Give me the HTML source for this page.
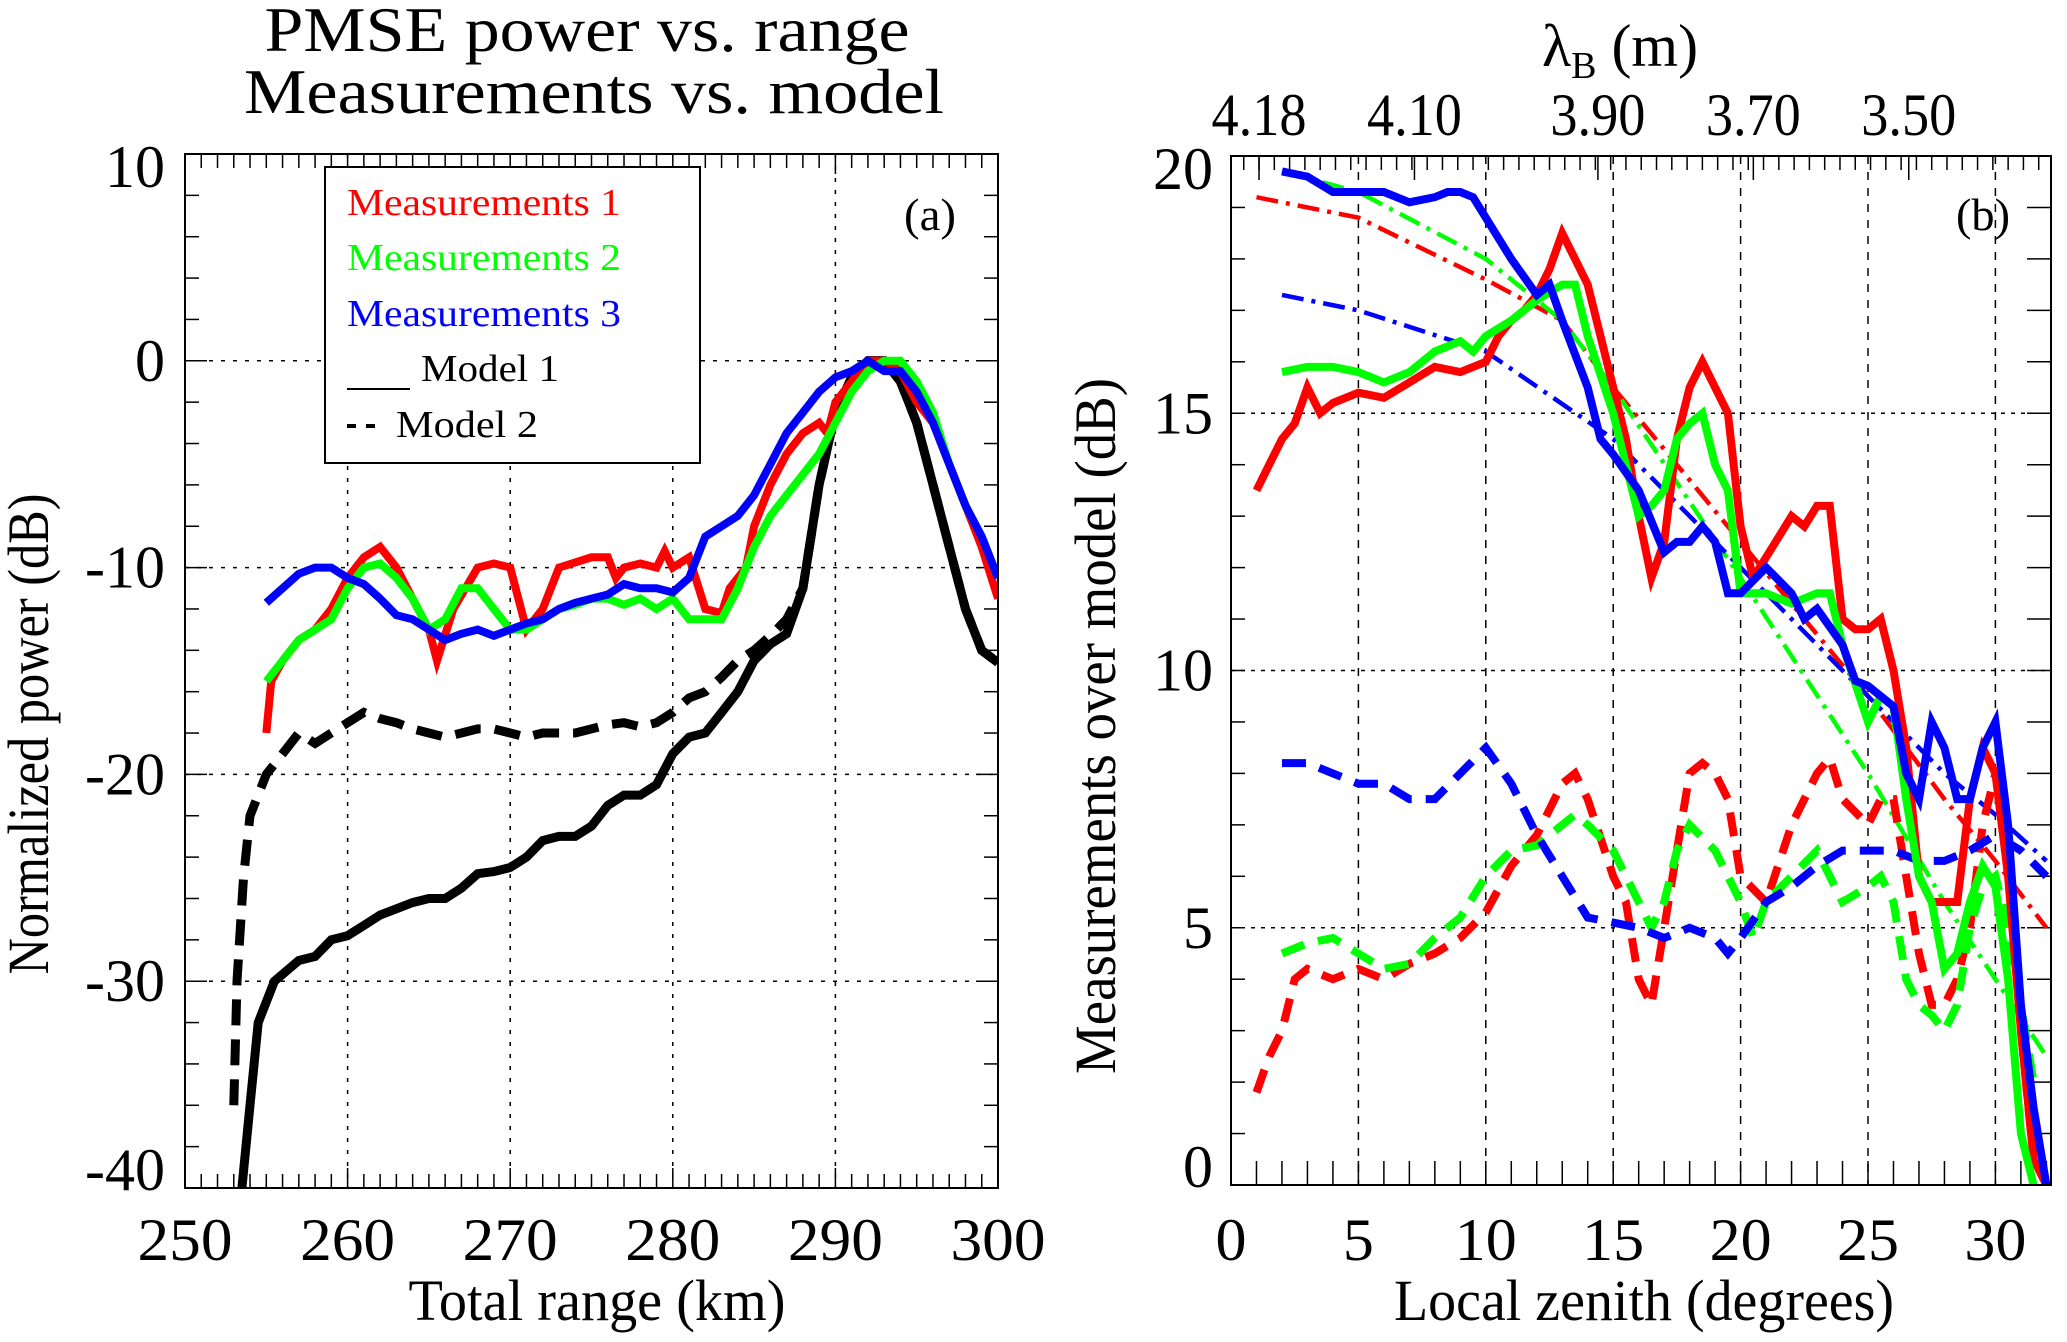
<!DOCTYPE html>
<html><head><meta charset="utf-8">
<style>
html,body{margin:0;padding:0;background:#fff;}
svg{display:block;font-family:"Liberation Serif","Times New Roman",serif;}
</style></head>
<body>
<svg id="fig" width="2067" height="1342" viewBox="0 0 2067 1342" xmlns="http://www.w3.org/2000/svg">
<rect width="2067" height="1342" fill="#fff"/>
<g id="pa"></g>
<g id="pb"></g>
</svg>
<script>
// ---------- Panel (a) data ----------
const aXTicks = [250,260,270,280,290,300];
const aYTicks = [10,0,-10,-20,-30,-40];
const m1X = [255,255.3,256,257,258,259,260,261,262,263,264,265,265.5,266.5,268,269,270,271,272,273,275,276,276.5,277,278,279,279.5,280,281,282,283,283.5,284.5,285,286,287,288,289,289.5,290,291,292,293,294,295,296,297,298,299,300];
const m1Y = [-18,-15.5,-14.5,-13.5,-13,-12,-10.5,-9.5,-9,-10,-11.5,-13,-14.5,-12,-10,-9.8,-10,-13,-12,-10,-9.5,-9.5,-10.5,-10,-9.8,-10,-9.2,-10,-9.5,-12,-12.2,-11,-10,-8,-6,-4.5,-3.5,-3,-3.5,-2,-1,0,0,-0.5,-2,-3,-5,-7,-9,-11.5];
const m2X = [255,256,257,258,259,260,261,262,263,264,265,266,267,268,269,270,271,272,273,274,275,276,277,278,279,280,281,282,283,284,285,286,287,288,289,290,291,292,293,294,295,296,297,298,299,300];
const m2Y = [-15.5,-14.5,-13.5,-13,-12.5,-11,-10,-9.8,-10.5,-11.5,-13,-12.5,-11,-11,-12,-13,-13,-12.5,-12,-11.8,-11.5,-11.5,-11.8,-11.5,-12,-11.5,-12.5,-12.5,-12.5,-11,-9,-7.5,-6.5,-5.5,-4.5,-3,-1.5,-0.5,0,0,-1,-2.5,-5,-7,-8.5,-10.5];
const m3X = m2X;
const m3Y = [-11.7,-11,-10.3,-10,-10,-10.5,-10.8,-11.5,-12.3,-12.5,-13,-13.5,-13.2,-13,-13.3,-13,-12.7,-12.5,-12,-11.7,-11.5,-11.3,-10.8,-11,-11,-11.2,-10.5,-8.5,-8,-7.5,-6.5,-5,-3.5,-2.5,-1.5,-0.8,-0.5,0,-0.5,-0.5,-1.5,-3,-5,-7,-8.5,-10.5];
const mod1X = [253.5,254,254.5,255.5,257,258,259,260,261,262,263,264,265,266,267,268,269,270,271,272,273,274,275,276,277,278,279,280,281,282,283,284,285,286,287,288,289,290,291,292,293,294,295,296,297,298,299,300];
const mod1Y = [-40,-36,-32,-30,-29,-28.8,-28,-27.8,-27.3,-26.8,-26.5,-26.2,-26,-26,-25.5,-24.8,-24.7,-24.5,-24,-23.2,-23,-23,-22.5,-21.5,-21,-21,-20.5,-19,-18.2,-18,-17,-16,-14.5,-13.7,-13.2,-11,-6,-2.5,-0.8,0,0,-1,-3,-6,-9,-12,-14,-14.6];
const mod2X = [253,253.2,253.6,254,255,256,257,258,259,260,261,262,263,264,265,266,267,268,269,270,271,272,273,274,275,276,277,278,279,280,281,282,283,284,285,286,287,288];
const mod2Y = [-36,-30,-25,-22,-20,-19,-18,-18.5,-18,-17.5,-17,-17.3,-17.5,-17.8,-18,-18.2,-18,-17.8,-17.8,-18,-18.2,-18,-18,-18,-17.8,-17.6,-17.5,-17.7,-17.5,-17,-16.3,-16,-15.3,-14.5,-14,-13.3,-12.5,-11];

// ---------- Panel (b) data ----------
const bXTicks = [0,5,10,15,20,25,30];
const bYTicks = [20,15,10,5,0];
const lamLabels = ["4.18","4.10","3.90","3.70","3.50"];
const lamZenith = [1.1,7.2,14.4,20.5,26.6];
const rSX = [1,1.5,2,2.5,3,3.5,4,5,6,7,8,9,10,10.5,11,11.5,12,12.5,13,13.5,14,14.5,15,15.5,16,16.5,17,17.5,18,18.5,19,19.5,20,20.5,21,22,22.5,23,23.5,24,24.5,25,25.5,26,26.5,27,27.5,28,28.5,29,29.5,30,30.5,31,31.5,32];
const rSY = [13.5,14,14.5,14.8,15.5,15,15.2,15.4,15.3,15.6,15.9,15.8,16,16.5,16.8,17,17.3,17.8,18.5,18,17.5,16.5,15.5,14.5,13,11.8,12.5,14.5,15.5,16,15.5,15,12.8,11.8,12.2,13,12.8,13.2,13.2,11,10.8,10.8,11,10,8.5,6,5.5,5.5,5.5,7.5,8.5,8,6,3,0.5,0];
const gSX = [2,3,4,5,6,7,8,9,9.5,10,11,12,13,13.5,14,15,15.5,16,16.5,17,17.5,18,18.5,19,19.5,20,21,22,23,23.5,24,25,25.5,26,26.5,27,27.5,28,28.5,29,29.5,30,30.5,31,31.5];
const gSY = [15.8,15.9,15.9,15.8,15.6,15.8,16.2,16.4,16.2,16.5,16.8,17.2,17.5,17.5,16.5,15,14,13,13.2,13.5,14.5,14.8,15,14,13.5,11.5,11.5,11.3,11.5,11.5,10.5,9,9.5,9.3,7.5,6,5.5,4.2,4.5,5.5,6.2,5.8,4,1,0];
const bSX = [2,3,4,5,6,7,8,8.5,9,9.5,10,11,12,12.5,13,14,14.5,15,16,17,17.5,18,18.5,19,19.5,20,21,22,22.5,23,24,24.5,25,26,26.5,27,27.5,28,28.5,29,29.5,30,30.5,31,31.5,32];
const bSY = [19.7,19.6,19.3,19.3,19.3,19.1,19.2,19.3,19.3,19.2,18.8,18,17.3,17.5,16.8,15.5,14.5,14.2,13.5,12.3,12.5,12.5,12.8,12.5,11.5,11.5,12,11.5,11,11.2,10.5,9.8,9.7,9.3,8,7.5,9,8.5,7.5,7.5,8.5,9,7,3.5,1.5,0];
const rDX = [1,1.5,2,2.5,3,4,5,6,7,8,9,10,11,12,13,13.5,14,15,15.5,16,16.5,17,17.5,18,18.5,19,19.5,20,21,22,23,23.5,24,25,25.5,26,26.5,27,27.5,28,28.5,29,29.5,30,30.5,31,31.5];
const rDY = [1.8,2.5,3,4,4.2,4,4.2,4,4.3,4.5,4.8,5.3,6.2,6.8,7.8,8,7.5,6,5.5,4,3.5,5,6.5,8,8.2,8,7.5,6,5.5,7,8,8.3,7.5,7,7.5,7.5,6,4.5,3.5,3.5,4,5,7,8,6.5,3,0.5];
const gDX = [2,3,4,5,6,7,8,9,10,11,12,13,13.5,14,15,16,16.5,17,17.5,18,19,19.5,20,20.5,21,22,23,23.5,24,25,25.5,26,26.5,27,27.5,28,28.5,29,29.5,30,30.5,31,31.5];
const gDY = [4.5,4.7,4.8,4.5,4.2,4.3,4.8,5.2,6,6.5,6.6,7,7.2,7,6.5,5.5,5,5.5,6.5,7,6.5,6,5.5,4.8,5.5,6,6.5,6,5.5,5.8,6,5.5,4,3.5,3.3,3,3.5,5,5.8,6,5,3.5,2];
const bDX = [2,3,4,5,6,7,8,9,10,11,12,13,14,15,16,17,18,19,19.5,20,21,22,23,24,25,26,27,28,29,30,31,32];
const bDY = [8.2,8.2,8,7.8,7.8,7.5,7.5,8,8.5,7.8,6.8,6,5.2,5.1,5,4.8,5,4.8,4.5,4.8,5.5,5.8,6.2,6.5,6.5,6.5,6.3,6.3,6.5,6.8,6.5,6];
const rFX = [1,5,10,13,15,20,25,28,30,32];
const rFY = [19.2,18.8,17.6,16.8,15.5,12.5,9.5,7.5,6.3,5];
const gFX = [2,5,10,13,15,20,25,28,30,32];
const gFY = [19.7,19.3,18,16.8,15.5,11.8,8,5.5,4,2.5];
const bFX = [2,5,10,15,20,25,28,30,32];
const bFY = [17.3,17,16.2,14.5,12,9.5,8,7.2,6.3];

const NS = "http://www.w3.org/2000/svg";
function mk(parent, tag, attrs, text){
  const e = document.createElementNS(NS, tag);
  for (const k in attrs) e.setAttribute(k, attrs[k]);
  if (text !== undefined) e.textContent = text;
  parent.appendChild(e);
  return e;
}
function scale(d0,d1,r0,r1){ return v => r0 + (v-d0)/(d1-d0)*(r1-r0); }
function pathD(xs, ys, sx, sy){
  return xs.map((x,i)=>(i?"L":"M")+sx(x).toFixed(1)+","+sy(ys[i]).toFixed(1)).join(" ");
}
const TF = 60;

// ---------- Panel (a) ----------
const pa = document.getElementById('pa');
const aL=185, aR=998, aT=154, aB=1188;
const ax = scale(250,300,aL,aR), ay = scale(10,-40,aT,aB);
aXTicks.slice(1,-1).forEach(v=>{
  const g = mk(pa,'line',{x1:ax(v),x2:ax(v),y1:aT,y2:aB,stroke:'#000','stroke-width':1.5,'stroke-dasharray':'4,8'});
  
  
});
aYTicks.slice(1,-1).forEach(v=>{
  const g = mk(pa,'line',{x1:aL,x2:aR,y1:ay(v),y2:ay(v),stroke:'#000','stroke-width':1.5,'stroke-dasharray':'4,8'});
  
  
});
for(let v=251; v<300; v++){
  const len = (v%10===0)?20:14;
  mk(pa,'line',{x1:ax(v),x2:ax(v),y1:aB,y2:aB-len,stroke:'#000','stroke-width':1.5});
  mk(pa,'line',{x1:ax(v),x2:ax(v),y1:aT,y2:aT+len,stroke:'#000','stroke-width':1.5});
}
for(let v=-38; v<10; v+=2){
  const len = (v%10===0)?22:14;
  mk(pa,'line',{x1:aL,x2:aL+len,y1:ay(v),y2:ay(v),stroke:'#000','stroke-width':1.5});
  mk(pa,'line',{x1:aR,x2:aR-len,y1:ay(v),y2:ay(v),stroke:'#000','stroke-width':1.5});
}
aXTicks.forEach(v=>{
  const t = mk(pa,'text',{x:ax(v),y:1260,'font-size':TF,'text-anchor':'middle',textLength:95,lengthAdjust:'spacingAndGlyphs'},String(v));
  
  
});
aYTicks.forEach((v,i)=>{
  const off = i===0?13:(i===aYTicks.length-1?-18:0);
  const t = mk(pa,'text',{x:165,y:ay(v)+20+off,'font-size':TF,'text-anchor':'end'},String(v));
  
  
});
function series(parent, xs, ys, sx, sy, color, w, dash, name){
  const p = mk(parent,'path',{d:pathD(xs,ys,sx,sy),fill:'none',stroke:color,'stroke-width':w,'stroke-linejoin':'miter','stroke-dasharray':dash||'none'});
  
  
  return p;
}
const clipA = mk(pa,'clipPath',{id:'ca'}); mk(clipA,'rect',{x:aL,y:aT,width:aR-aL,height:aB-aT});
const ga = mk(pa,'g',{'clip-path':'url(#ca)'});
series(ga, mod2X.concat(mod1X.slice(35)), mod2Y.concat(mod1Y.slice(35)), ax, ay, '#000', 9, '26,14', 'model-2-line');
series(ga, mod1X, mod1Y, ax, ay, '#000', 9, null, 'model-1-line');
series(ga, m1X, m1Y, ax, ay, '#ff0000', 8, null, 'measurements-1-line');
series(ga, m2X, m2Y, ax, ay, '#00ff00', 8, null, 'measurements-2-line');
series(ga, m3X, m3Y, ax, ay, '#0000ff', 8, null, 'measurements-3-line');
mk(pa,'rect',{x:aL,y:aT,width:aR-aL,height:aB-aT,fill:'none',stroke:'#000','stroke-width':2});
const leg = mk(pa,'g',{});


mk(leg,'rect',{x:325,y:167,width:375,height:296,fill:'#fff',stroke:'#000','stroke-width':2});
const legItems = [["Measurements 1","#ff0000",215],["Measurements 2","#00ff00",270],["Measurements 3","#0000ff",326]];
legItems.forEach(it=>{
  const t = mk(leg,'text',{x:347,y:it[2],'font-size':38,fill:it[1],textLength:274,lengthAdjust:'spacingAndGlyphs'},it[0]);
  
  
});
mk(leg,'line',{x1:347,x2:410,y1:389,y2:389,stroke:'#000','stroke-width':2});
const l4 = mk(leg,'text',{x:421,y:381,'font-size':38,textLength:138,lengthAdjust:'spacingAndGlyphs'},"Model 1");
 
mk(leg,'line',{x1:347,x2:384,y1:426,y2:426,stroke:'#000','stroke-width':4,'stroke-dasharray':'9,10'});
const l5 = mk(leg,'text',{x:396,y:437,'font-size':38,textLength:142,lengthAdjust:'spacingAndGlyphs'},"Model 2");
 
const pal = mk(pa,'text',{x:930,y:230,'font-size':46,'text-anchor':'middle',textLength:52,lengthAdjust:'spacingAndGlyphs'},"(a)");
 
const t1 = mk(pa,'text',{x:587,y:51,'font-size':64,'text-anchor':'middle',textLength:645,lengthAdjust:'spacingAndGlyphs'},"PMSE power vs. range");
 
const t2 = mk(pa,'text',{x:594,y:113,'font-size':64,'text-anchor':'middle',textLength:700,lengthAdjust:'spacingAndGlyphs'},"Measurements vs. model");
 
const xta = mk(pa,'text',{x:597,y:1320,'font-size':58,'text-anchor':'middle',textLength:377,lengthAdjust:'spacingAndGlyphs'},"Total range (km)");
 
const yta = mk(pa,'text',{x:0,y:0,'font-size':58,'text-anchor':'middle',transform:'translate(48,734) rotate(-90)',textLength:481,lengthAdjust:'spacingAndGlyphs'},"Normalized power (dB)");
 

// ---------- Panel (b) ----------
const pb = document.getElementById('pb');
const bL=1231, bR=2051, bT=156, bB=1185;
const bx = scale(0,5,bL,bL+127.4), by = scale(20,0,bT,bB);
bXTicks.slice(1).forEach(v=>{
  const g = mk(pb,'line',{x1:bx(v),x2:bx(v),y1:bT,y2:bB,stroke:'#000','stroke-width':1.5,'stroke-dasharray':'8,8'});
   
});
bYTicks.slice(1,-1).forEach(v=>{
  const g = mk(pb,'line',{x1:bL,x2:bR,y1:by(v),y2:by(v),stroke:'#000','stroke-width':1.5,'stroke-dasharray':'4,6'});
   
});
for(let v=1; v<=32; v++){
  mk(pb,'line',{x1:bx(v),x2:bx(v),y1:bB,y2:bB-24,stroke:'#000','stroke-width':1.5});
}
for(let v=0.5; v<32; v+=0.6){
  mk(pb,'line',{x1:bx(v),x2:bx(v),y1:bT,y2:bT+14,stroke:'#000','stroke-width':1.5});
}
lamZenith.forEach(z=>{
  mk(pb,'line',{x1:bx(z),x2:bx(z),y1:bT,y2:bT+24,stroke:'#000','stroke-width':1.5});
});
for(let v=1; v<20; v++){
  mk(pb,'line',{x1:bL,x2:bL+14,y1:by(v),y2:by(v),stroke:'#000','stroke-width':1.5});
  mk(pb,'line',{x1:bR,x2:bR-24,y1:by(v),y2:by(v),stroke:'#000','stroke-width':1.5});
}
bXTicks.forEach(v=>{
  const s = String(v);
  const t = mk(pb,'text',{x:bx(v),y:1260,'font-size':TF,'text-anchor':'middle',textLength:s.length*31,lengthAdjust:'spacingAndGlyphs'},s);
   
});
bYTicks.forEach((v,i)=>{
  const off = i===0?13:(i===bYTicks.length-1?-18:0);
  const t = mk(pb,'text',{x:1213,y:by(v)+20+off,'font-size':TF,'text-anchor':'end'},String(v));
   
});
lamLabels.forEach((s,i)=>{
  const t = mk(pb,'text',{x:bx(lamZenith[i]),y:135,'font-size':TF,'text-anchor':'middle',textLength:95,lengthAdjust:'spacingAndGlyphs'},s);
   
});
const clipB = mk(pb,'clipPath',{id:'cb'}); mk(clipB,'rect',{x:bL,y:bT,width:bR-bL,height:bB-bT});
const gb = mk(pb,'g',{'clip-path':'url(#cb)'});
series(gb, rFX, rFY, bx, by, '#ff0000', 4.5, '22,8,4,8', 'fit-red-dashdot');
series(gb, gFX, gFY, bx, by, '#00ff00', 4.5, '22,8,4,8', 'fit-green-dashdot');
series(gb, bFX, bFY, bx, by, '#0000ff', 4.5, '22,8,4,8', 'fit-blue-dashdot');
series(gb, rDX, rDY, bx, by, '#ff0000', 8, '24,14', 'dashed-red');
series(gb, gDX, gDY, bx, by, '#00ff00', 8, '24,14', 'dashed-green');
series(gb, bDX, bDY, bx, by, '#0000ff', 8, '24,14', 'dashed-blue');
series(gb, rSX, rSY, bx, by, '#ff0000', 8, null, 'solid-red');
series(gb, gSX, gSY, bx, by, '#00ff00', 8, null, 'solid-green');
series(gb, bSX, bSY, bx, by, '#0000ff', 8, null, 'solid-blue');
mk(pb,'rect',{x:bL,y:bT,width:bR-bL,height:bB-bT,fill:'none',stroke:'#000','stroke-width':2});
const pbl = mk(pb,'text',{x:1983,y:230,'font-size':46,'text-anchor':'middle',textLength:54,lengthAdjust:'spacingAndGlyphs'},"(b)");
 
const xtb = mk(pb,'text',{x:1644,y:1320,'font-size':58,'text-anchor':'middle',textLength:500,lengthAdjust:'spacingAndGlyphs'},"Local zenith (degrees)");
 
const ytb = mk(pb,'text',{x:0,y:0,'font-size':58,'text-anchor':'middle',transform:'translate(1115,726) rotate(-90)',textLength:696,lengthAdjust:'spacingAndGlyphs'},"Measurements over model (dB)");
 
const lt = mk(pb,'text',{x:1542,y:66,'font-size':60},"λ");
 
mk(lt,'tspan',{'font-size':38,dy:12},"B");
mk(lt,'tspan',{'font-size':60,dy:-12},"\u00a0(m)");
</script>
</body></html>
